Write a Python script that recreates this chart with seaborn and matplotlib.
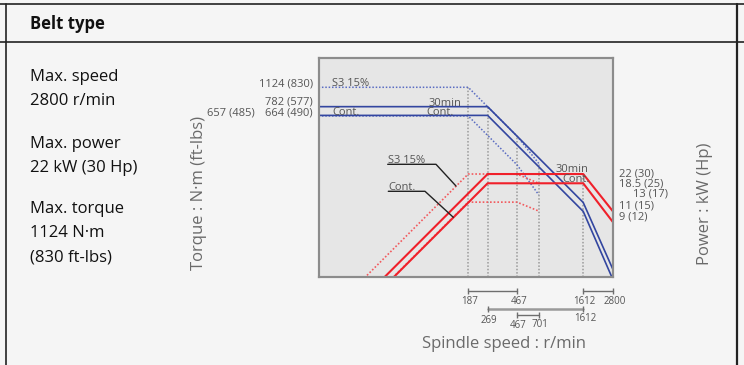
import matplotlib
matplotlib.use("Agg")
import matplotlib.pyplot as plt
import seaborn as sns
from matplotlib.lines import Line2D
from matplotlib.ticker import NullLocator

# speeds (r/min) of the curve break points
speed_low = [10, 187, 467, 701]
speed_high = [10, 269, 1612, 2800]
power_speed_low = [20, 187, 467, 701]
power_speed_high = [20, 269, 1612, 2800]

# torque curves (N·m)
torque_s3 = [1124, 1124, 450, 270]
torque_30min = [782, 782, 130, 37.5]
torque_cont = [664, 664, 110, 31]
torque_cont_low = [657, 657, 263, 150]

# power curves (kW)
power_s3 = [2.35, 22, 22, 18.5]
power_30min = [1.64, 22, 22, 11]
power_cont = [1.38, 18.5, 18.5, 9]
power_cont_low = [1.39, 13, 13, 11]

# guide lines
vline_speed = [187, 269, 467, 701, 1612]
vline_top = [1124, 782, 450, 270, 222]

# speed ranges shown under the chart
ranges = [(187, 467), (1612, 2800), (269, 1612), (467, 701)]

torque_labels = ["1124 (830)", "782 (577)", "664 (490)", "657 (485)"]
power_labels = ["22 (30)", "18.5 (25)", "13 (17)", "11 (15)", "9 (12)"]

blue = "#3346a0"
blue_dot = "#5a6cc2"
red = "#f0202a"
red_dot = "#f25a5e"
grey_txt = "#555555"

sns.set_style("white")
plt.rcParams["font.family"] = ["Open Sans", "DejaVu Sans"]

W, H = 744, 365
fig = plt.figure(figsize=(W / 100, H / 100), dpi=100, facecolor="#f5f5f5")


def fx(x):
    return x / W


def fy(y):
    return 1 - y / H


def ftext(x, y, s, **kw):
    fig.text(fx(x), fy(y), s, **kw)


def fline(xs, ys, **kw):
    fig.add_artist(Line2D([fx(v) for v in xs], [fy(v) for v in ys],
                          transform=fig.transFigure, **kw))


# table frame
fline([0, W], [4.3, 4.3], color="#222222", lw=1.2)
fline([0, W], [42, 42], color="#222222", lw=1.2)
fline([6.5, 6.5], [4.3, H], color="#222222", lw=1.2)
fline([736.5, 736.5], [4.3, H], color="#222222", lw=1.6)

ftext(30, 24, "Belt type", fontsize=12, fontweight="bold", color="#111111", va="center")
left_lines = [(77, "Max. speed"), (101, "2800 r/min"), (144, "Max. power"),
              (168, "22 kW (30 Hp)"), (209, "Max. torque"), (233, "1124 N·m"),
              (258, "(830 ft-lbs)")]
for yy, s in left_lines:
    ftext(30, yy, s, fontsize=12, color="#111111", va="center")

# chart
ax = fig.add_axes([fx(319.3), fy(276.7), fx(612.7) - fx(319.3), fy(58.3) - fy(276.7)])
ax.set_facecolor("#e6e6e6")
ax.set_xscale("log")
ax.set_yscale("log")
ax.set_xlim(11.5, 2800)
ax.set_ylim(32.4, 1934)

ax.vlines(vline_speed, 32.4, vline_top, colors="#9a9a9a", linestyles=(0, (1, 1.2)), lw=1.1)

dot = (0, (1, 1.2))
sns.lineplot(x=speed_low, y=torque_s3, ax=ax, color=blue_dot, linestyle=dot, lw=1.1, sort=False, estimator=None)
sns.lineplot(x=speed_low, y=torque_cont_low, ax=ax, color=blue_dot, linestyle=dot, lw=1.1, sort=False, estimator=None)
sns.lineplot(x=speed_high, y=torque_30min, ax=ax, color=blue, lw=1.2, sort=False, estimator=None)
sns.lineplot(x=speed_high, y=torque_cont, ax=ax, color=blue, lw=1.2, sort=False, estimator=None)

ax2 = ax.twinx()
ax2.set_yscale("log")
ax2.set_ylim(3.22, 191.9)
sns.lineplot(x=power_speed_low, y=power_s3, ax=ax2, color=red_dot, linestyle=dot, lw=1.2, sort=False, estimator=None)
sns.lineplot(x=power_speed_low, y=power_cont_low, ax=ax2, color=red_dot, linestyle=dot, lw=1.2, sort=False, estimator=None)
sns.lineplot(x=power_speed_high, y=power_30min, ax=ax2, color=red, lw=1.5, sort=False, estimator=None)
sns.lineplot(x=power_speed_high, y=power_cont, ax=ax2, color=red, lw=1.5, sort=False, estimator=None)
ax.set_xlim(11.5, 2800)

for a in (ax, ax2):
    for axis in (a.xaxis, a.yaxis):
        axis.set_major_locator(NullLocator())
        axis.set_minor_locator(NullLocator())
    a.set_xlabel("")
    a.set_ylabel("")
    for sp in a.spines.values():
        sp.set_color("#8c8c8c")
        sp.set_linewidth(1.5)
ax2.patch.set_visible(False)

# speed range brackets below the plot
tr = ax.get_xaxis_transform()
bracket_y = [-0.0655, -0.0655, -0.149, -0.175]
bracket_lw = [1.0, 1.0, 1.8, 1.0]
bracket_col = ["#6e6e6e", "#6e6e6e", "#9a9a9a", "#6e6e6e"]
label_y = [(-0.1145, -0.1145), (-0.1145, -0.1145), (-0.2015, -0.19), (-0.225, -0.221)]
for (a0, a1), by, lw, c, (ly0, ly1) in zip(ranges, bracket_y, bracket_lw, bracket_col, label_y):
    ax.plot([a0, a1], [by, by], transform=tr, color=c, lw=lw, clip_on=False)
    ax.plot([a0, a1], [by, by], transform=tr, color="#6e6e6e", lw=0, marker="|",
            markersize=5, mew=1, clip_on=False)
    ax.text(a0 * 1.02, ly0, str(a0), transform=tr, ha="center", va="center",
            fontsize=7, color=grey_txt)
    ax.text(a1 * 1.03, ly1, str(a1), transform=tr, ha="center", va="center",
            fontsize=7, color=grey_txt)

# torque values on the left
ftext(313, 87, torque_labels[0], fontsize=8, color=grey_txt, ha="right", va="baseline")
ftext(313, 105, torque_labels[1], fontsize=8, color=grey_txt, ha="right", va="baseline")
ftext(313, 115.5, torque_labels[2], fontsize=8, color=grey_txt, ha="right", va="baseline")
ftext(255, 115.5, torque_labels[3], fontsize=8, color=grey_txt, ha="right", va="baseline")

# power values on the right
for (xx, yy), s in zip([(619, 173.5), (619, 184), (633, 194.5), (619, 206), (619, 217)], power_labels):
    ftext(xx, yy, s, fontsize=8, color=grey_txt, ha="left", va="center")

# curve names
ftext(332, 86.5, "S3 15%", fontsize=8, color=grey_txt, va="baseline")
ftext(332, 115, "Cont.", fontsize=8, color=grey_txt, va="baseline")
ftext(461, 105.5, "30min", fontsize=8, color=grey_txt, ha="right", va="baseline")
ftext(454, 115, "Cont.", fontsize=8, color=grey_txt, ha="right", va="baseline")
ftext(588, 171.5, "30min", fontsize=8, color=grey_txt, ha="right", va="baseline")
ftext(590, 181.5, "Cont.", fontsize=8, color=grey_txt, ha="right", va="baseline")

ftext(388, 163, "S3 15%", fontsize=8, color=grey_txt, va="baseline")
fline([387.7, 436, 456], [164.3, 164.3, 186], color="#222222", lw=1)
ftext(388, 190, "Cont.", fontsize=8, color=grey_txt, va="baseline")
fline([388.3, 425, 453.3], [191.3, 191.3, 217.3], color="#222222", lw=1)

# axis titles
ftext(199, 193, "Torque : N·m (ft-lbs)", fontsize=12, color="#6a6a6a", rotation=90,
      ha="center", va="center")
ftext(705, 204, "Power : kW (Hp)", fontsize=12, color="#6a6a6a", rotation=90,
      ha="center", va="center")
ftext(504, 344, "Spindle speed : r/min", fontsize=12, color="#6a6a6a",
      ha="center", va="center")

fig.savefig("out.png", dpi=100, facecolor=fig.get_facecolor())
